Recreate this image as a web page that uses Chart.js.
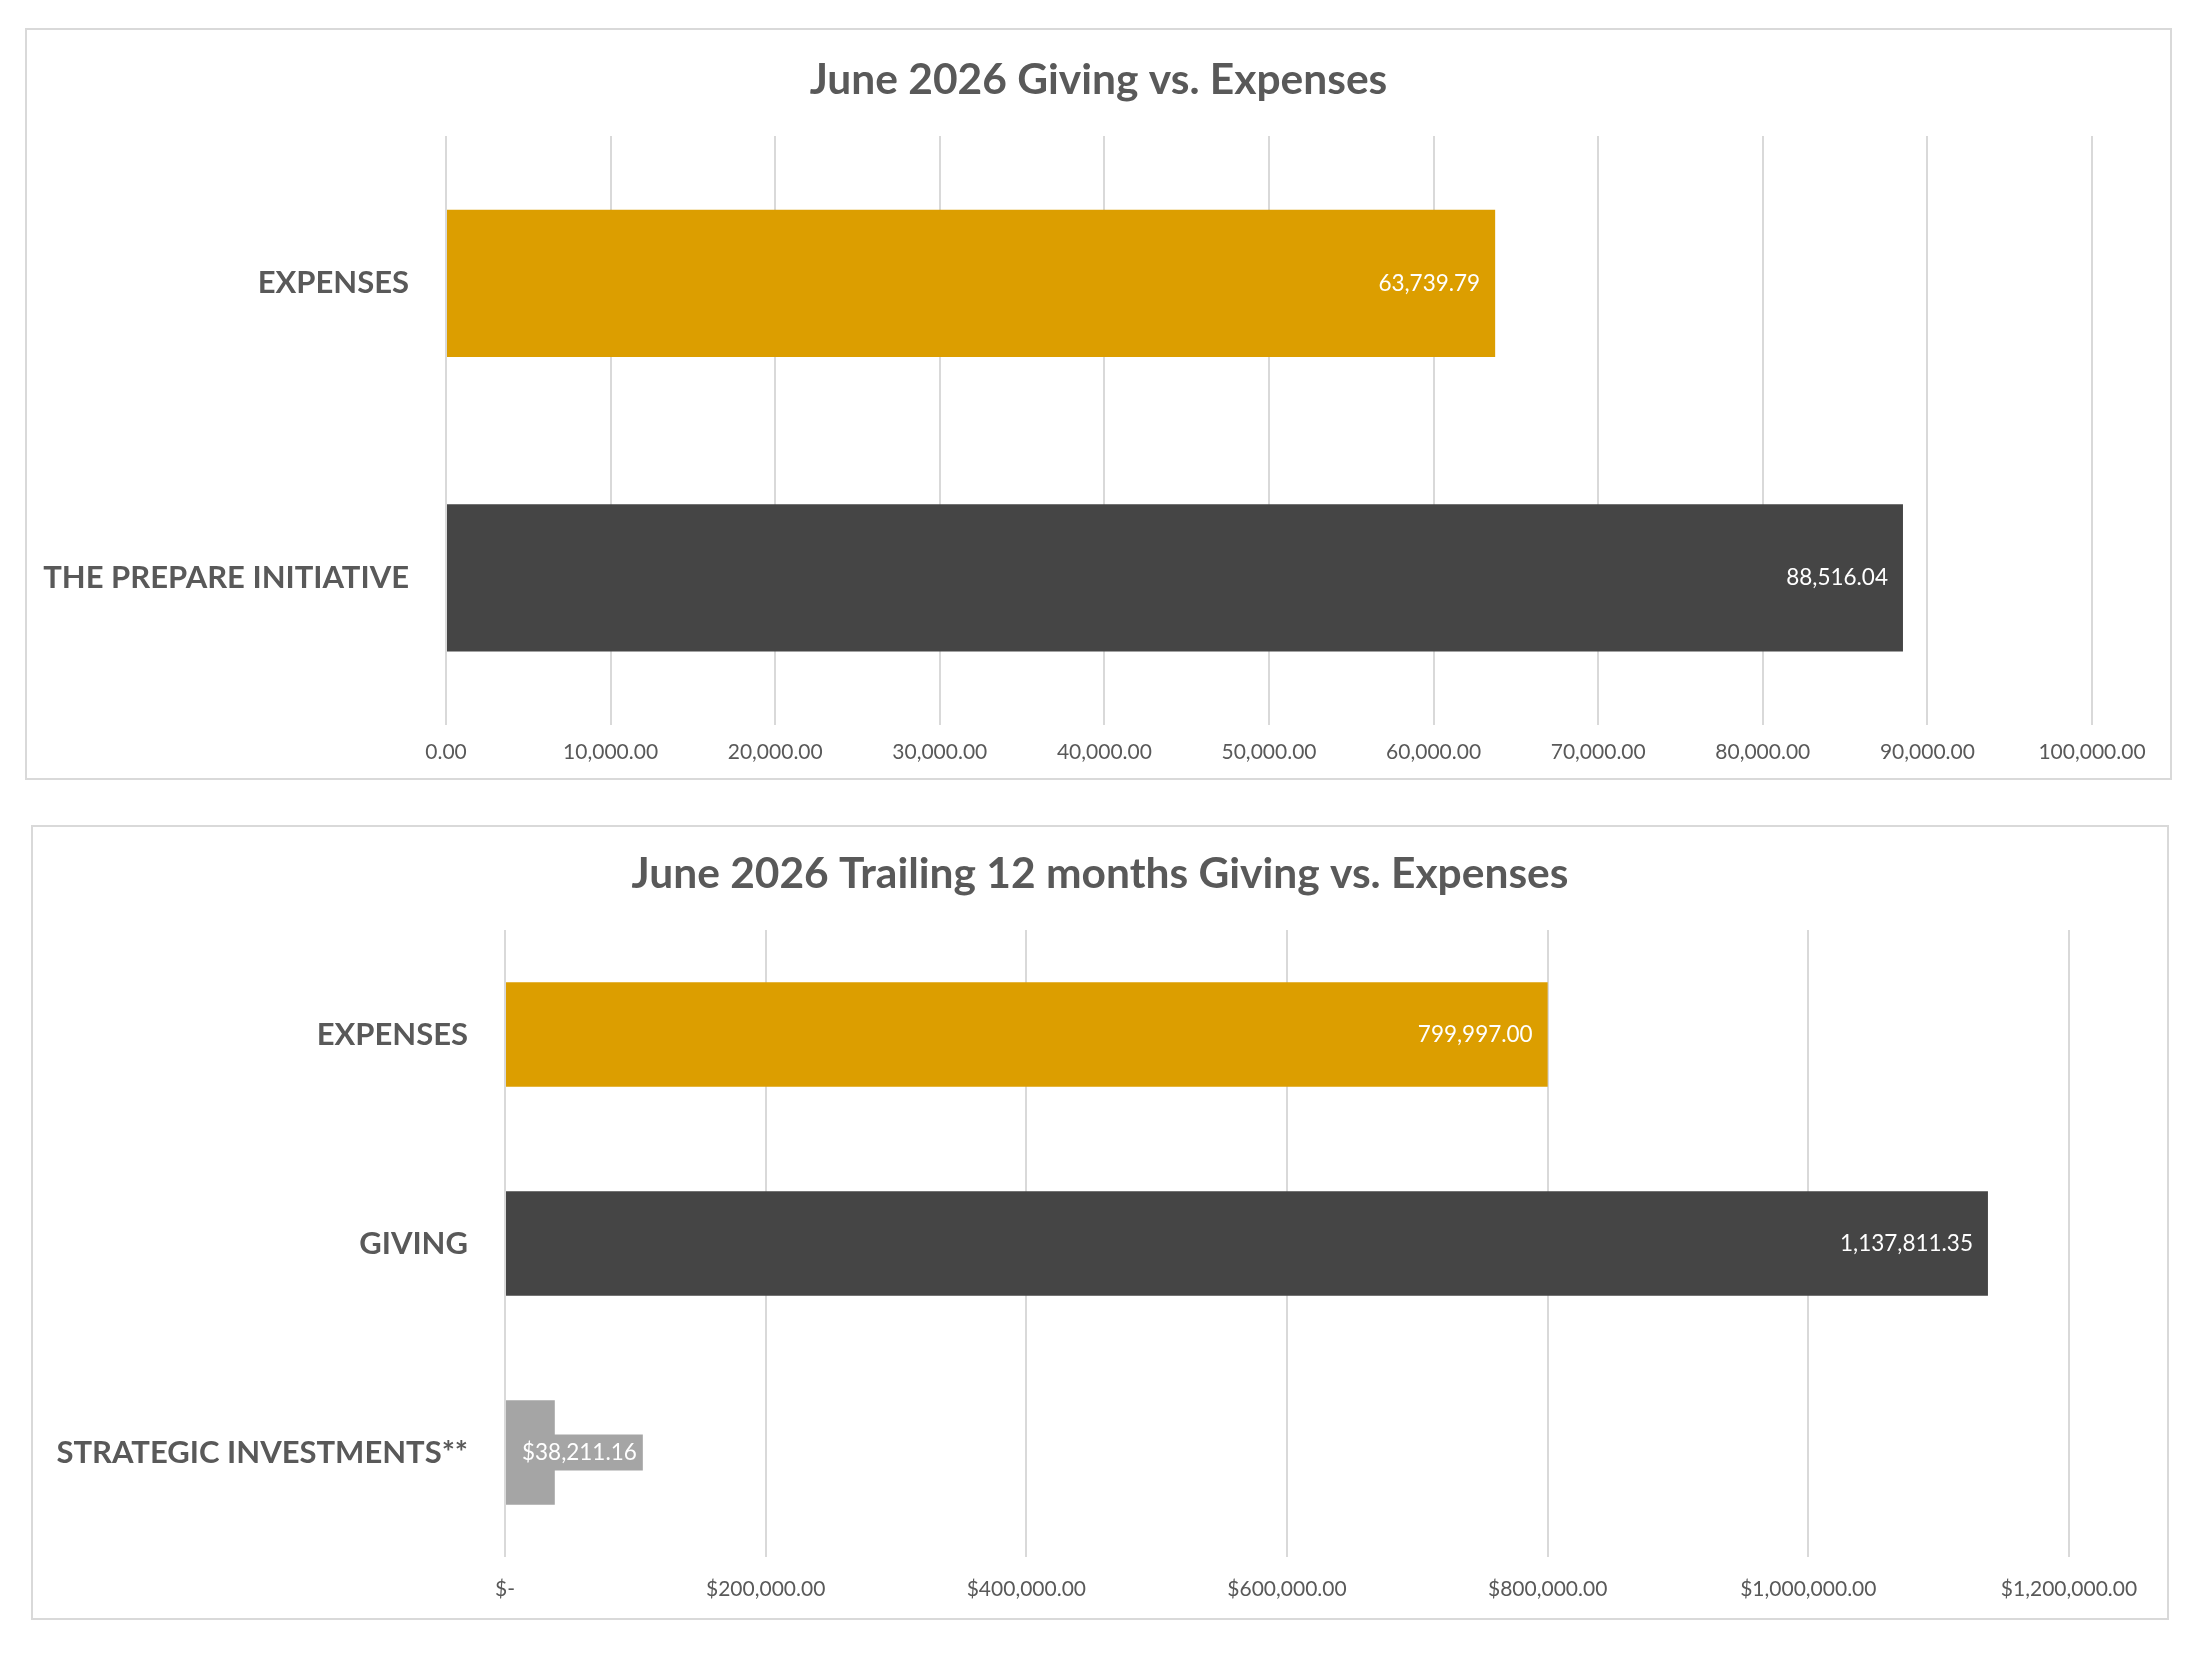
<!DOCTYPE html>
<html>
<head>
<meta charset="utf-8">
<script src="https://cdn.jsdelivr.net/npm/chart.js@4"></script>
<style>
  html, body { margin: 0; padding: 0; background: #fff; }
  body { width: 2200px; height: 1659px; position: relative; }
  .panel { position: absolute; border: 2px solid #d9d9d9; background: #fff; box-sizing: border-box; }
  #p1 { left: 25px; top: 28px; width: 2147px; height: 752px; }
  #p2 { left: 31px; top: 825px; width: 2138px; height: 795px; }
  .panel canvas { display: block; }
</style>
</head>
<body>
<div class="panel" id="p1"><canvas id="c1"></canvas></div>
<div class="panel" id="p2"><canvas id="c2"></canvas></div>
<script>
// --- data ---
const monthTitle = 'June 2026 Giving vs. Expenses';
const monthCategories = ['EXPENSES', 'THE PREPARE INITIATIVE'];
const monthValues = [63739.79, 88516.04];
const monthColors = ['#dc9e00', '#454545'];
const monthTickValues = [0, 10000, 20000, 30000, 40000, 50000, 60000, 70000, 80000, 90000, 100000];
const monthTickLabels = ['0.00', '10,000.00', '20,000.00', '30,000.00', '40,000.00', '50,000.00',
  '60,000.00', '70,000.00', '80,000.00', '90,000.00', '100,000.00'];
const monthValueLabels = ['63,739.79', '88,516.04'];

const yearTitle = 'June 2026 Trailing 12 months Giving vs. Expenses';
const yearCategories = ['EXPENSES', 'GIVING', 'STRATEGIC INVESTMENTS**'];
const yearValues = [799997.00, 1137811.35, 38211.16];
const yearColors = ['#dc9e00', '#454545', '#a5a5a5'];
const yearTickValues = [0, 200000, 400000, 600000, 800000, 1000000, 1200000];
const yearTickLabels = ['$-', '$200,000.00', '$400,000.00', '$600,000.00', '$800,000.00',
  '$1,000,000.00', '$1,200,000.00'];
const yearValueLabels = ['799,997.00', '1,137,811.35', '$38,211.16'];

const FONT = 'Lato, "Open Sans", sans-serif';
const TEXT = '#595959';

// value labels inside the bar end; if they don't fit, put them in a box of the bar colour
const barLabels = {
  id: 'barLabels',
  afterDatasetsDraw(chart, args, opts) {
    const ctx = chart.ctx;
    const meta = chart.getDatasetMeta(0);
    ctx.save();
    ctx.font = '22.5px ' + FONT;
    ctx.textBaseline = 'middle';
    meta.data.forEach((bar, i) => {
      const txt = opts.labels[i];
      const w = ctx.measureText(txt).width;
      const len = bar.x - bar.base;
      if (w + 24 < len) {
        ctx.fillStyle = '#ffffff';
        ctx.textAlign = 'right';
        ctx.fillText(txt, bar.x - 15, bar.y);
      } else {
        const x0 = bar.base + 2;
        ctx.fillStyle = opts.colors[i];
        ctx.fillRect(x0, bar.y - 18, w + 20, 36);
        ctx.fillStyle = '#ffffff';
        ctx.textAlign = 'left';
        ctx.fillText(txt, x0 + 14, bar.y);
      }
    });
    ctx.restore();
  }
};

function makeChart(id, w, h, cfg) {
  const canvas = document.getElementById(id);
  canvas.width = w; canvas.height = h;
  canvas.style.width = w + 'px'; canvas.style.height = h + 'px';
  return new Chart(canvas, {
    type: 'bar',
    data: {
      labels: cfg.categories,
      datasets: [{
        data: cfg.values,
        backgroundColor: cfg.colors,
        borderColor: cfg.colors,
        borderWidth: 0,
        categoryPercentage: 1.0,
        barPercentage: 0.5
      }]
    },
    options: {
      indexAxis: 'y',
      responsive: false,
      animation: false,
      devicePixelRatio: 1,
      layout: { padding: 0 },
      plugins: {
        legend: { display: false },
        tooltip: { enabled: false },
        title: {
          display: true,
          text: cfg.title,
          color: TEXT,
          font: { family: FONT, size: 42.5, weight: 'bold', lineHeight: 1.2 },
          padding: { top: cfg.titleTop, bottom: cfg.titleGap }
        },
        barLabels: { labels: cfg.valueLabels, colors: cfg.colors }
      },
      scales: {
        x: {
          min: 0,
          max: cfg.tickValues[cfg.tickValues.length - 1],
          afterBuildTicks: (s) => { s.ticks = cfg.tickValues.map(v => ({ value: v })); },
          afterFit: (s) => { s.height = cfg.xAxisHeight; s.paddingRight = cfg.padRight; },
          grid: { color: '#d9d9d9', lineWidth: 2, drawTicks: false },
          border: { display: false },
          ticks: {
            color: TEXT,
            padding: cfg.tickPad,
            font: { family: FONT, size: 21 },
            callback: (v) => cfg.tickLabels[cfg.tickValues.indexOf(v)]
          }
        },
        y: {
          afterFit: (s) => { s.width = cfg.yAxisWidth; },
          grid: { display: false },
          border: { display: false },
          ticks: {
            color: TEXT,
            padding: 29,
            font: { family: FONT, size: 31, weight: 'bold' }
          }
        }
      }
    },
    plugins: [barLabels]
  });
}

makeChart('c1', 2143, 748, {
  title: monthTitle, categories: monthCategories, values: monthValues, colors: monthColors,
  tickValues: monthTickValues, tickLabels: monthTickLabels, valueLabels: monthValueLabels,
  padRight: 78, yAxisWidth: 419, xAxisHeight: 53, titleTop: 25, titleGap: 30, tickPad: 15
});

makeChart('c2', 2134, 791, {
  title: yearTitle, categories: yearCategories, values: yearValues, colors: yearColors,
  tickValues: yearTickValues, tickLabels: yearTickLabels, valueLabels: yearValueLabels,
  padRight: 98, yAxisWidth: 472, xAxisHeight: 61, titleTop: 22, titleGap: 30, tickPad: 20
});
</script>
</body>
</html>
